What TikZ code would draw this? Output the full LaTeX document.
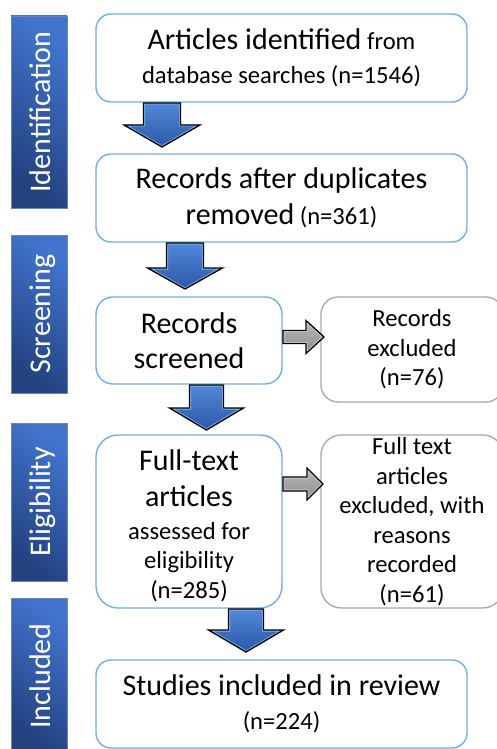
\documentclass[tikz,border=0pt]{standalone}
\usepackage{fontspec}
\setmainfont{Carlito}
\newcommand\bigf{\fontsize{30}{35}\selectfont}
\newcommand\smf{\fontsize{24.6}{29.5}\selectfont}
\definecolor{boxblue}{HTML}{6FAEEE}
\definecolor{boxgray}{HTML}{A8A8A8}
\definecolor{bardark}{HTML}{23417F}
\definecolor{barlight}{HTML}{4274CE}
\definecolor{barline}{HTML}{6A86B5}
\definecolor{arrtop}{HTML}{5088D8}
\definecolor{arrbot}{HTML}{2C58A6}
\definecolor{arrin}{HTML}{80B3F0}
\definecolor{grtop}{HTML}{B8B8B8}
\definecolor{grbot}{HTML}{8E8E8E}
\definecolor{grin}{HTML}{DADADA}
% down block arrow: cx, top, neck, tip, shaft half, head half
\newcommand\dnarrow[6]{%
  \def\arrpath{({#1-#5},#2) -- ({#1+#5},#2) -- ({#1+#5},#3) -- ({#1+#6},#3) -- (#1,#4) -- ({#1-#6},#3) -- ({#1-#5},#3) -- cycle}%
  \shade[top color=arrtop, bottom color=arrbot] \arrpath;
  \begin{scope}\clip \arrpath; \draw[arrin, line width=3pt] \arrpath; \end{scope}
  \draw[black, line width=1.3pt, line join=miter] \arrpath;}
% right block arrow: left, neck, tip, cy, shaft half, head half
\newcommand\rtarrow[6]{%
  \def\arrpath{(#1,{#4-#5}) -- (#2,{#4-#5}) -- (#2,{#4-#6}) -- (#3,#4) -- (#2,{#4+#6}) -- (#2,{#4+#5}) -- (#1,{#4+#5}) -- cycle}%
  \shade[top color=grtop, bottom color=grbot] \arrpath;
  \begin{scope}\clip \arrpath; \draw[grin, line width=2.6pt] \arrpath; \end{scope}
  \draw[black, line width=1.3pt, line join=miter] \arrpath;}
\begin{document}
\begin{tikzpicture}[x=1pt,y=-1pt,
  bluebox/.style={draw=boxblue, line width=1.4pt, rounded corners=15pt, fill=white,
     inner sep=0pt, align=center, font=\smf},
  graybox/.style={draw=boxgray, line width=1.3pt, rounded corners=17pt, fill=white,
     inner sep=0pt, align=center, font=\smf},
  barbox/.style={draw=barline, line width=0.6pt, top color=barlight, bottom color=bardark,
     shading angle=-40},
  sidelabel/.style={rotate=90, anchor=base, text=white, font=\bigf, inner sep=0pt}]
\useasboundingbox (0,0) rectangle (497,749);
\fill[white] (0,0) rectangle (497,749);
% phase bars
\path[barbox] (11,16) rectangle (67,208);
\path[barbox] (11,235) rectangle (67,393);
\path[barbox] (11,423) rectangle (67,581);
\path[barbox] (11,598) rectangle (67,752);
\node[sidelabel] (l1) at (50,112) {Identification};
\node[sidelabel] (l2) at (50,314) {Screening};
\node[sidelabel] (l3) at (50,502) {Eligibility};
\node[sidelabel] (l4) at (50,676) {Included};
% boxes
\node[bluebox, minimum width=371pt, minimum height=88pt] (b1) at (281.5,58)
  {{\bigf Articles identified} from\\[4pt] database searches (n=1546)};
\node[bluebox, minimum width=371pt, minimum height=88pt] (b2) at (281.5,198)
  {{\bigf Records after duplicates}\\[6pt]{\bigf removed} (n=361)};
\node[bluebox, minimum width=186pt, minimum height=87pt, rounded corners=17pt] (b3) at (189,340.5)
  {{\bigf Records}\\[6pt]{\bigf screened}};
\node[graybox, minimum width=182pt, minimum height=105pt] (b4) at (412,349.5)
  {Records\\excluded\\(n=76)};
\node[bluebox, minimum width=186pt, minimum height=173pt, rounded corners=22pt] (b5) at (189,521.5)
  {\rule{0pt}{29pt}{\bigf Full-text}\\[7pt]{\bigf articles}\\[3pt]assessed for\\eligibility\\(n=285)};
\node[graybox, minimum width=182pt, minimum height=173pt, rounded corners=20pt] (b6) at (412,521.5)
  {Full text\\articles\\excluded, with\\reasons\\recorded\\(n=61)};
\node[bluebox, minimum width=371pt, minimum height=88pt] (b7) at (281.5,704)
  {{\bigf Studies included in review}\\[5pt](n=224)};
% block arrows
\dnarrow{162}{103}{125}{147}{18.5}{38}
\dnarrow{185}{243}{268}{289}{18.5}{37.5}
\dnarrow{206.5}{385}{408}{430}{17}{37}
\dnarrow{246}{609}{630}{652}{17.5}{37.5}
\rtarrow{283}{306}{324}{337}{6.5}{16.5}
\rtarrow{283}{307}{323}{484}{7}{16}
\end{tikzpicture}
\end{document}
